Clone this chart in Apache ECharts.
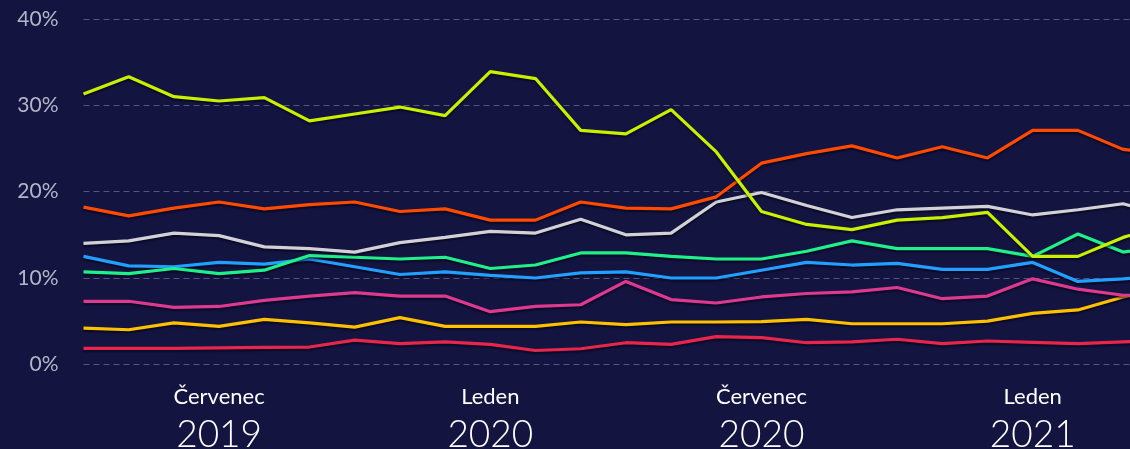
<!DOCTYPE html>
<html>
<head>
<meta charset="utf-8">
<script src="https://cdn.jsdelivr.net/npm/echarts@6/dist/echarts.min.js"></script>
<style>
  html, body { margin: 0; padding: 0; background: #141441; }
  #chart { width: 1130px; height: 449px; }
</style>
</head>
<body>
<div id="chart"></div>
<script>
// months, April 2019 .. April 2021 (the last one sits past the right edge)
var months = ['2019-04','2019-05','2019-06','2019-07','2019-08','2019-09','2019-10','2019-11','2019-12',
  '2020-01','2020-02','2020-03','2020-04','2020-05','2020-06','2020-07','2020-08','2020-09','2020-10',
  '2020-11','2020-12','2021-01','2021-02','2021-03','2021-04'];

// labelled ticks under the axis
var tickMonths = ['2019-07', '2020-01', '2020-07', '2021-01'];
var tickNames = ['Červenec', 'Leden', 'Červenec', 'Leden'];
var tickYears = ['2019', '2020', '2020', '2021'];

var yTicks = [0, 10, 20, 30, 40];

// shares in %
var lime   = [31.3,33.3,31.0,30.5,30.9,28.2,29.0,29.8,28.8,33.9,33.1,27.1,26.7,29.5,24.6,17.7,16.2,15.6,16.7,17.0,17.6,12.5,12.5,14.7,16.2];
var orange = [18.2,17.2,18.1,18.8,18.0,18.5,18.8,17.7,18.0,16.7,16.7,18.8,18.1,18.0,19.4,23.3,24.4,25.3,23.9,25.2,23.9,27.1,27.1,24.9,24.3];
var grey   = [14.0,14.3,15.2,14.9,13.6,13.4,13.0,14.1,14.7,15.4,15.2,16.8,15.0,15.2,18.8,19.9,18.4,17.0,17.9,18.1,18.3,17.3,17.9,18.6,17.2];
var green  = [10.7,10.5,11.1,10.5,10.9,12.6,12.4,12.2,12.4,11.1,11.5,12.9,12.9,12.5,12.2,12.2,13.1,14.3,13.4,13.4,13.4,12.5,15.1,13.0,13.8];
var blue   = [12.5,11.4,11.3,11.8,11.6,12.2,11.3,10.4,10.7,10.3,10.0,10.6,10.7,10.0,10.0,10.9,11.8,11.5,11.7,11.0,11.0,11.8,9.6,9.9,10.3];
var pink   = [7.3,7.3,6.6,6.7,7.4,7.9,8.3,7.9,7.9,6.1,6.7,6.9,9.6,7.5,7.1,7.8,8.2,8.4,8.9,7.6,7.9,9.9,8.7,8.0,8.0];
var yellow = [4.2,4.0,4.8,4.4,5.2,4.8,4.3,5.4,4.4,4.4,4.4,4.9,4.6,4.9,4.9,4.95,5.2,4.7,4.7,4.7,5.0,5.9,6.3,7.8,8.8];
var red    = [1.85,1.85,1.85,1.9,1.95,2.0,2.8,2.4,2.6,2.3,1.6,1.8,2.5,2.3,3.2,3.1,2.5,2.6,2.9,2.4,2.7,2.55,2.4,2.6,2.8];

var myChart = echarts.init(document.getElementById('chart'));

function line(name, data, color) {
  return {
    name: name,
    type: 'line',
    data: data,
    symbol: 'none',
    lineStyle: {
      width: 3.2,
      color: color,
      shadowColor: 'rgba(0,0,20,0.6)',
      shadowBlur: 2,
      shadowOffsetY: 2
    }
  };
}

var option = {
  backgroundColor: '#141441',
  animation: false,
  grid: {
    left: 83.5,
    width: 1084.8,
    top: 19,
    bottom: 84.7,
    outerBoundsMode: 'none'
  },
  xAxis: {
    type: 'category',
    data: months,
    boundaryGap: false,
    axisLine: { show: false },
    axisTick: { show: false },
    axisLabel: {
      interval: 0,
      margin: 19,
      formatter: function (v) {
        var k = tickMonths.indexOf(v);
        if (k < 0) return '';
        return '{m|' + tickNames[k] + '}\n{y|' + tickYears[k] + '}';
      },
      rich: {
        m: { fontFamily: 'Lato', fontSize: 22, color: '#ffffff', lineHeight: 28, align: 'center' },
        y: { fontFamily: 'Lato', fontWeight: 300, fontSize: 37, color: '#ffffff', lineHeight: 47, align: 'center' }
      }
    }
  },
  yAxis: {
    type: 'value',
    min: yTicks[0],
    max: yTicks[yTicks.length - 1],
    interval: 10,
    axisLine: { show: false },
    axisTick: { show: false },
    axisLabel: {
      formatter: '{value}%',
      margin: 25,
      fontFamily: 'Lato',
      fontSize: 21,
      color: '#b4b4c8'
    },
    splitLine: {
      lineStyle: { color: '#55557c', width: 1, type: [6, 4] }
    }
  },
  series: [
    line('red', red, '#e8264c'),
    line('yellow', yellow, '#ffc000'),
    line('pink', pink, '#dd3a8f'),
    line('blue', blue, '#22a0ff'),
    line('green', green, '#20f08a'),
    line('grey', grey, '#d2d2d6'),
    line('orange', orange, '#ff4a00'),
    line('lime', lime, '#c8f000')
  ]
};
myChart.setOption(option);
</script>
</body>
</html>
